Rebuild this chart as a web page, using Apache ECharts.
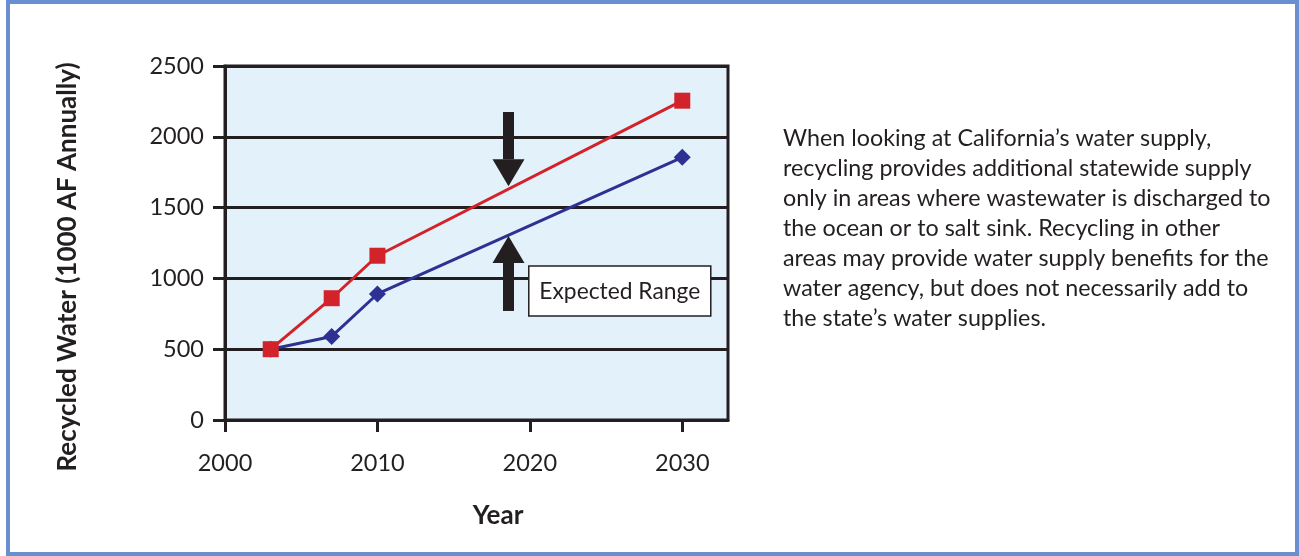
<!DOCTYPE html>
<html>
<head>
<meta charset="utf-8">
<script src="https://cdn.jsdelivr.net/npm/echarts@6/dist/echarts.min.js"></script>
<style>
  html, body { margin: 0; padding: 0; background: #ffffff; }
  #chart { width: 1299px; height: 556px; }
</style>
</head>
<body>
<div id="chart"></div>
<script>
// Recycled water projections (1000 acre-feet per year)
const years = [2003, 2007, 2010, 2030];
const highEstimate = [500, 860, 1160, 2255];
const lowEstimate = [500, 590, 890, 1855];
const xTickValues = [2000, 2010, 2020, 2030];

// Arrows bracketing the expected range: [year, tail value, tip value]
const rangeArrows = [
  [2018.6, 2175, 1650],
  [2018.6, 770, 1300]
];
// Label box: [year, value] of its centre
const rangeLabelAt = [[2025.9, 911]];
const rangeLabelText = 'Expected Range';

const yAxisTitle = 'Recycled Water (1000 AF Annually)';
const xAxisTitle = 'Year';
const noteText = [
  'When looking at California\u2019s water supply,',
  'recycling provides additional statewide supply',
  'only in areas where wastewater is discharged to',
  'the ocean or to salt sink. Recycling in other',
  'areas may provide water supply benefits for the',
  'water agency, but does not necessarily add to',
  'the state\u2019s water supplies.'
];

const INK = '#231f20';
const FONT = 'Lato, "Open Sans", sans-serif';

const chart = echarts.init(document.getElementById('chart'), null, { renderer: 'canvas' });

chart.setOption({
  animation: false,
  backgroundColor: '#ffffff',
  grid: {
    left: 225, top: 66, right: 571, bottom: 136,
    show: true,
    backgroundColor: '#e3f1fa',
    borderColor: INK,
    borderWidth: 3
  },
  xAxis: {
    type: 'value',
    min: 2000, max: 2033, interval: 10,
    axisLine: { show: true, onZero: false, lineStyle: { color: INK, width: 3 } },
    axisTick: { show: true, inside: false, length: 12, customValues: xTickValues, lineStyle: { color: INK, width: 3 } },
    axisLabel: {
      customValues: xTickValues,
      margin: 31, fontSize: 23.5, color: INK, fontFamily: FONT,
      formatter: v => (v % 10 === 0 ? String(v) : '')
    },
    splitLine: { show: false }
  },
  yAxis: {
    type: 'value',
    min: 0, max: 2500, interval: 500,
    axisLine: { show: true, lineStyle: { color: INK, width: 3 } },
    axisTick: { show: true, inside: false, length: 12, lineStyle: { color: INK, width: 3 } },
    axisLabel: { margin: 21, fontSize: 23.5, color: INK, fontFamily: FONT, formatter: v => String(v) },
    splitLine: { show: true, lineStyle: { color: INK, width: 3 } }
  },
  series: [
    {
      name: 'Low',
      type: 'line',
      data: years.map((y, i) => [y, lowEstimate[i]]),
      symbol: 'diamond', symbolSize: 17,
      lineStyle: { color: '#2e3192', width: 3 },
      itemStyle: { color: '#2e3192' },
      z: 3
    },
    {
      name: 'High',
      type: 'line',
      data: years.map((y, i) => [y, highEstimate[i]]),
      symbol: 'rect', symbolSize: 16,
      lineStyle: { color: '#d2232a', width: 3 },
      itemStyle: { color: '#d2232a' },
      z: 4
    },
    {
      name: 'Range arrows',
      type: 'custom',
      data: rangeArrows,
      z: 5,
      renderItem: (params, api) => {
        const p0 = api.coord([api.value(0), api.value(1)]);
        const p1 = api.coord([api.value(0), api.value(2)]);
        const dir = p1[1] > p0[1] ? 1 : -1;
        const headLen = 27, headHalf = 16, shaftHalf = 5.5;
        const baseY = p1[1] - dir * headLen;
        return {
          type: 'group',
          children: [
            {
              type: 'rect',
              shape: { x: p0[0] - shaftHalf, y: Math.min(p0[1], baseY), width: shaftHalf * 2, height: Math.abs(baseY - p0[1]) },
              style: { fill: INK }
            },
            {
              type: 'polygon',
              shape: { points: [[p1[0] - headHalf, baseY], [p1[0] + headHalf, baseY], [p1[0], p1[1]]] },
              style: { fill: INK }
            }
          ]
        };
      }
    },
    {
      name: 'Range label',
      type: 'custom',
      data: rangeLabelAt,
      z: 6,
      renderItem: (params, api) => {
        const c = api.coord([api.value(0), api.value(1)]);
        const w = 182, h = 50;
        return {
          type: 'group',
          children: [
            {
              type: 'rect',
              shape: { x: c[0] - w / 2, y: c[1] - h / 2, width: w, height: h },
              style: { fill: '#ffffff', stroke: INK, lineWidth: 1.5 }
            },
            {
              type: 'text',
              style: {
                x: c[0], y: c[1] + 1, text: rangeLabelText,
                align: 'center', verticalAlign: 'middle',
                fontSize: 22.8, fontFamily: FONT, fill: INK
              }
            }
          ]
        };
      }
    }
  ],
  graphic: [
    {
      type: 'rect',
      shape: { x: 8, y: 2, width: 1289, height: 552 },
      style: { fill: 'none', stroke: '#6a8fd0', lineWidth: 4 },
      silent: true
    },
    {
      type: 'text',
      x: 68, y: 267, rotation: Math.PI / 2,
      style: {
        text: yAxisTitle, align: 'center', verticalAlign: 'middle',
        fontSize: 26, fontWeight: 'bold', fontFamily: FONT, fill: INK
      }
    },
    {
      type: 'text',
      x: 498, y: 516,
      style: {
        text: xAxisTitle, align: 'center', verticalAlign: 'middle',
        fontSize: 26, fontWeight: 'bold', fontFamily: FONT, fill: INK
      }
    },
    {
      type: 'text',
      x: 783, y: 123,
      style: {
        text: noteText.join('\n'), lineHeight: 30,
        fontSize: 23.3, fontFamily: FONT, fill: INK
      }
    }
  ]
});
</script>
</body>
</html>
